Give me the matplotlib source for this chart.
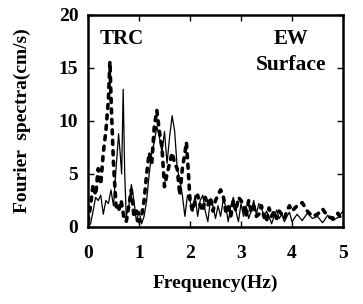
import numpy as np
import matplotlib
matplotlib.use('Agg')
import matplotlib.pyplot as plt

# Thin solid spectrum
freq_solid = [0.0, 0.05, 0.1, 0.15, 0.2, 0.25, 0.3, 0.35, 0.4, 0.45, 0.5, 0.55, 0.6, 0.63, 0.66,
              0.69, 0.72, 0.75, 0.8, 0.85, 0.9, 0.95, 1.0, 1.05, 1.1, 1.15, 1.2, 1.25, 1.3, 1.35,
              1.4, 1.45, 1.5, 1.55, 1.6, 1.65, 1.7, 1.75, 1.8, 1.85, 1.9, 1.95, 2.0, 2.05, 2.1,
              2.15, 2.2, 2.25, 2.3, 2.35, 2.4, 2.45, 2.5, 2.55, 2.6, 2.65, 2.7, 2.75, 2.8, 2.85,
              2.9, 2.95, 3.0, 3.05, 3.1, 3.15, 3.2, 3.25, 3.3, 3.35, 3.4, 3.45, 3.5, 3.55, 3.6,
              3.65, 3.7, 3.75, 3.8, 3.85, 3.9, 3.95, 4.0, 4.1, 4.2, 4.3, 4.4, 4.5, 4.6, 4.7,
              4.8, 4.9, 5.0]
amp_solid = [0.0, 0.3, 1.5, 2.8, 2.5, 3.0, 1.2, 2.5, 2.2, 3.5, 2.0, 5.5, 8.8, 7.0, 5.0,
             13.0, 5.0, 1.0, 2.0, 4.0, 2.5, 0.5, 1.5, 0.3, 1.0, 2.5, 5.0, 7.0, 8.0, 9.5,
             8.5, 7.0, 9.0, 6.0, 8.5, 10.5, 9.0, 5.5, 4.5, 3.0, 1.0, 3.0, 2.5, 1.5, 3.0,
             1.0, 2.5, 3.0, 1.5, 0.5, 2.5, 2.0, 0.8, 2.0, 1.0, 2.5, 2.0, 0.5, 2.0, 2.8,
             1.5, 0.5, 2.2, 1.0, 2.0, 0.8, 1.5, 2.5, 1.2, 2.2, 2.0, 0.8, 1.5, 1.0, 0.3,
             1.0, 1.6, 0.8, 1.2, 0.5, 1.0, 1.4, 0.5, 1.2, 0.6, 1.3, 0.8, 1.0, 0.4, 1.1,
             0.6, 0.9, 1.5]

# Thick dotted spectrum
freq_dot = [0.0, 0.05, 0.1, 0.15, 0.2, 0.25, 0.3, 0.35, 0.4, 0.43, 0.46, 0.5, 0.55, 0.6, 0.65,
            0.7, 0.75, 0.8, 0.85, 0.9, 0.95, 1.0, 1.05, 1.1, 1.15, 1.2, 1.25, 1.3, 1.35, 1.4,
            1.45, 1.5, 1.55, 1.6, 1.65, 1.7, 1.75, 1.8, 1.85, 1.9, 1.93, 1.97, 2.0, 2.05, 2.1,
            2.15, 2.2, 2.25, 2.3, 2.35, 2.4, 2.45, 2.5, 2.55, 2.6, 2.65, 2.7, 2.75, 2.8, 2.85,
            2.9, 2.95, 3.0, 3.05, 3.1, 3.15, 3.2, 3.25, 3.3, 3.35, 3.4, 3.45, 3.5, 3.55, 3.6,
            3.65, 3.7, 3.75, 3.8, 3.85, 3.9, 3.95, 4.0, 4.1, 4.2, 4.3, 4.4, 4.5, 4.6, 4.7,
            4.8, 4.9, 5.0]
amp_dot = [0.5, 2.0, 4.0, 3.0, 5.5, 4.0, 7.0, 9.0, 12.0, 15.6, 11.0, 6.0, 2.0, 1.5, 2.5,
           1.0, 0.5, 2.0, 3.5, 1.0, 1.5, 0.5, 1.0, 2.5, 5.0, 7.0, 6.0, 9.5, 11.0, 9.0,
           7.5, 3.8, 5.0, 6.0, 7.0, 6.0, 5.5, 3.0, 5.5, 7.0, 8.0, 5.0, 2.5, 1.5, 2.5,
           3.0, 2.0, 1.5, 2.8, 2.0, 2.8, 1.5, 2.5, 3.0, 3.5, 3.0, 1.5, 2.0, 1.0, 2.5,
           1.5, 2.8, 2.5, 2.0, 1.0, 2.5, 1.5, 2.0, 1.0, 1.2, 2.0, 1.0, 0.5, 1.8, 1.0,
           1.5, 0.8, 1.5, 1.2, 0.8, 1.5, 2.0, 1.5, 2.0, 2.3, 1.5, 1.0, 1.2, 1.7, 1.0,
           0.8, 1.3, 0.5]

plt.rcParams['font.family'] = ['Liberation Serif', 'DejaVu Serif']

fig = plt.figure(figsize=(3.63, 3.04), dpi=100)
ax = fig.add_axes([0.2424, 0.2533, 0.7025, 0.6974])

ax.plot(freq_solid, amp_solid, '-', color='black', linewidth=0.9)
ax.plot(freq_dot, amp_dot, color='black', linewidth=2.6,
        linestyle=(0, (1.1, 1.8)), dash_capstyle='round')

ax.set_xlim([0, 5])
ax.set_ylim([0, 20])
ax.set_xticks([0, 1, 2, 3, 4, 5])
ax.set_yticks([0, 5, 10, 15, 20])
ax.tick_params(direction='in', top=True, right=True, length=4, width=1,
               labelsize=14)
ax.tick_params(axis='x', pad=13)
ax.tick_params(axis='y', pad=7)
for lab in ax.get_xticklabels() + ax.get_yticklabels():
    lab.set_fontweight('bold')
for s in ax.spines.values():
    s.set_linewidth(1.8)

ax.set_xlabel('Frequency(Hz)', fontsize=14, fontweight='bold', labelpad=9)
ax.set_ylabel('Fourier  spectra(cm/s)', fontsize=14, fontweight='bold', labelpad=20)

ax.text(0.22, 17.7, 'TRC', fontsize=15, fontweight='bold', ha='left', va='center')
ax.text(3.98, 17.7, 'EW', fontsize=15, fontweight='bold', ha='center', va='center')
ax.text(3.98, 15.3, 'Surface', fontsize=15.5, fontweight='bold', ha='center', va='center')

fig.savefig('out.png', dpi=100)
